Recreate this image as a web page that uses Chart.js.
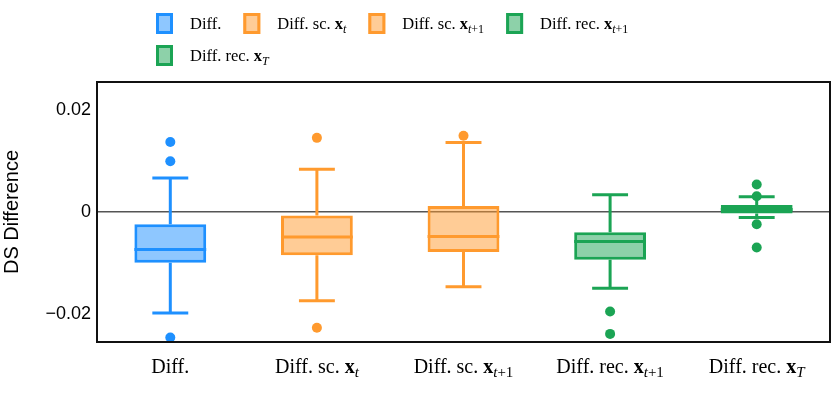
<!DOCTYPE html>
<html>
<head>
<meta charset="utf-8">
<script src="https://cdn.jsdelivr.net/npm/chart.js@4/dist/chart.umd.min.js"></script>
<style>
  body { margin: 0; background: #fff; }
  canvas { display: block; }
</style>
</head>
<body>
<canvas id="boxChart" width="831" height="416"></canvas>
<script>
// categories, x_{...} is drawn as a bold x with a subscript
const categories = ["Diff.", "Diff. sc. x_{t}", "Diff. sc. x_{t+1}", "Diff. rec. x_{t+1}", "Diff. rec. x_{T}"];

// box statistics
const q1 = [-0.0100, -0.0085, -0.0079, -0.0094, -0.0003];
const q3 = [-0.0024, -0.0007, 0.0012, -0.0040, 0.0014];
const medians = [-0.0074, -0.0049, -0.0048, -0.0058, 0.0005];
const whiskerLow = [-0.0199, -0.0175, -0.0147, -0.0150, -0.0011];
const whiskerHigh = [0.0067, 0.0084, 0.0137, 0.0034, 0.0030];
const outliers = [
  [0.0138, 0.0100, -0.0247],
  [0.0146, -0.0228],
  [0.0150],
  [-0.0196, -0.0240],
  [0.0054, 0.0031, -0.0024, -0.0070]
];

const yTicks = [-0.02, 0, 0.02];
const yMin = -0.0256;
const yMax = 0.0256;

const strokes = ["#1e90ff", "#ff9a2e", "#ff9a2e", "#1ba454", "#1ba454"];
const fills = ["rgba(30,144,255,0.5)", "rgba(255,154,46,0.5)", "rgba(255,154,46,0.5)", "rgba(27,164,84,0.5)", "rgba(27,164,84,0.5)"];

const SERIF = "'Liberation Serif', 'DejaVu Serif', serif";
const SANS = "'Liberation Sans', Arial, sans-serif";

// split a label into runs of normal / bold / subscript text
function parseLabel(s) {
  const m = s.match(/^(.*)x_\{(.*)\}$/);
  if (!m) return [{ text: s, kind: "normal" }];
  const parts = [{ text: m[1], kind: "normal" }, { text: "x", kind: "bold" }];
  for (const ch of m[2]) {
    parts.push({ text: ch, kind: /[a-zA-Z]/.test(ch) ? "subItalic" : "sub" });
  }
  return parts;
}

function partFont(kind, size) {
  if (kind === "bold") return "bold " + size + "px " + SERIF;
  if (kind === "subItalic") return "italic " + Math.round(size * 0.75) + "px " + SERIF;
  if (kind === "sub") return Math.round(size * 0.75) + "px " + SERIF;
  return size + "px " + SERIF;
}

function richWidth(ctx, label, size) {
  let w = 0;
  for (const p of parseLabel(label)) {
    ctx.font = partFont(p.kind, size);
    w += ctx.measureText(p.text).width;
  }
  return w;
}

function drawRich(ctx, label, x, y, size, align) {
  let cx = align === "center" ? x - richWidth(ctx, label, size) / 2 : x;
  ctx.textBaseline = "alphabetic";
  ctx.textAlign = "left";
  ctx.fillStyle = "#000";
  for (const p of parseLabel(label)) {
    ctx.font = partFont(p.kind, size);
    const dy = p.kind.startsWith("sub") ? size * 0.22 : 0;
    ctx.fillText(p.text, cx, y + dy);
    cx += ctx.measureText(p.text).width;
  }
}

const boxPlotParts = {
  id: "boxPlotParts",
  beforeDatasetsDraw(chart) {
    const { ctx, scales: { x, y } } = chart;
    const meta = chart.getDatasetMeta(0);
    ctx.save();
    ctx.lineWidth = 3;
    categories.forEach((c, i) => {
      const px = x.getPixelForValue(i);
      const capHalf = meta.data[i].width / 4;
      ctx.strokeStyle = strokes[i];
      ctx.beginPath();
      ctx.moveTo(px, y.getPixelForValue(whiskerLow[i]));
      ctx.lineTo(px, y.getPixelForValue(q1[i]));
      ctx.moveTo(px, y.getPixelForValue(q3[i]));
      ctx.lineTo(px, y.getPixelForValue(whiskerHigh[i]));
      ctx.moveTo(px - capHalf, y.getPixelForValue(whiskerLow[i]));
      ctx.lineTo(px + capHalf, y.getPixelForValue(whiskerLow[i]));
      ctx.moveTo(px - capHalf, y.getPixelForValue(whiskerHigh[i]));
      ctx.lineTo(px + capHalf, y.getPixelForValue(whiskerHigh[i]));
      ctx.stroke();
    });
    ctx.restore();
  },
  afterDatasetDraw(chart, args) {
    if (args.index !== 0) return;
    const { ctx, scales: { y } } = chart;
    const meta = chart.getDatasetMeta(0);
    ctx.save();
    ctx.lineWidth = 3;
    categories.forEach((c, i) => {
      const bar = meta.data[i];
      const py = y.getPixelForValue(medians[i]);
      ctx.strokeStyle = strokes[i];
      ctx.beginPath();
      ctx.moveTo(bar.x - bar.width / 2, py);
      ctx.lineTo(bar.x + bar.width / 2, py);
      ctx.stroke();
    });
    ctx.restore();
  },
  afterDraw(chart) {
    const { ctx, chartArea: a, scales: { x } } = chart;
    ctx.save();
    // frame
    ctx.strokeStyle = "#111";
    ctx.lineWidth = 2;
    ctx.strokeRect(a.left, a.top, a.right - a.left, a.bottom - a.top);

    // x labels
    categories.forEach((c, i) => {
      drawRich(ctx, c, x.getPixelForValue(i), a.bottom + 31, 20, "center");
    });

    // legend
    let lx = 156;
    let row = 0;
    categories.forEach((c, i) => {
      if (i > 0 && i % 4 === 0) { row++; lx = 156; }
      const top = 13 + row * 32;
      ctx.fillStyle = "#fff";
      ctx.fillRect(lx, top, 17, 21);
      ctx.fillStyle = fills[i];
      ctx.fillRect(lx, top, 17, 21);
      ctx.strokeStyle = strokes[i];
      ctx.lineWidth = 3;
      ctx.strokeRect(lx + 1.5, top + 1.5, 14, 18);
      drawRich(ctx, c, lx + 34, top + 16, 16.5, "left");
      lx += 34 + richWidth(ctx, c, 16.5) + 22;
    });
    ctx.restore();
  }
};

const outlierPoints = [];
const outlierColors = [];
outliers.forEach((vals, i) => {
  vals.forEach(v => {
    outlierPoints.push({ x: categories[i], y: v });
    outlierColors.push(strokes[i]);
  });
});

new Chart(document.getElementById("boxChart"), {
  type: "bar",
  data: {
    labels: categories,
    datasets: [
      {
        label: "boxes",
        data: categories.map((c, i) => [q1[i], q3[i]]),
        backgroundColor: fills,
        borderColor: strokes,
        borderWidth: 3,
        borderSkipped: false,
        categoryPercentage: 1,
        barPercentage: 0.49
      },
      {
        type: "line",
        label: "outliers",
        data: outlierPoints,
        showLine: false,
        pointRadius: 5,
        pointBorderWidth: 0,
        pointBackgroundColor: outlierColors
      }
    ]
  },
  options: {
    responsive: false,
    animation: false,
    devicePixelRatio: 1,
    layout: { autoPadding: false, padding: { top: 82, right: 1, left: 0, bottom: 0 } },
    plugins: { legend: { display: false }, tooltip: { enabled: false } },
    scales: {
      x: {
        ticks: { display: false },
        grid: { display: false },
        border: { display: false },
        afterFit(axis) { axis.height = 74; }
      },
      y: {
        min: yMin,
        max: yMax,
        afterBuildTicks(axis) { axis.ticks = yTicks.map(v => ({ value: v })); },
        afterFit(axis) { axis.width = 97; },
        ticks: {
          padding: 6,
          color: "#000",
          font: { family: SANS, size: 18 },
          callback: v => v === 0 ? "0" : (v < 0 ? "\u2212" : "") + Math.abs(v).toFixed(2)
        },
        grid: {
          drawTicks: false,
          lineWidth: 1.5,
          color: c => c.tick && c.tick.value === 0 ? "#555" : "rgba(0,0,0,0)"
        },
        border: { display: false },
        title: {
          display: true,
          text: "DS Difference",
          color: "#000",
          font: { family: SANS, size: 20 },
          padding: { top: 0, bottom: 0 }
        }
      }
    }
  },
  plugins: [boxPlotParts]
});
</script>
</body>
</html>
